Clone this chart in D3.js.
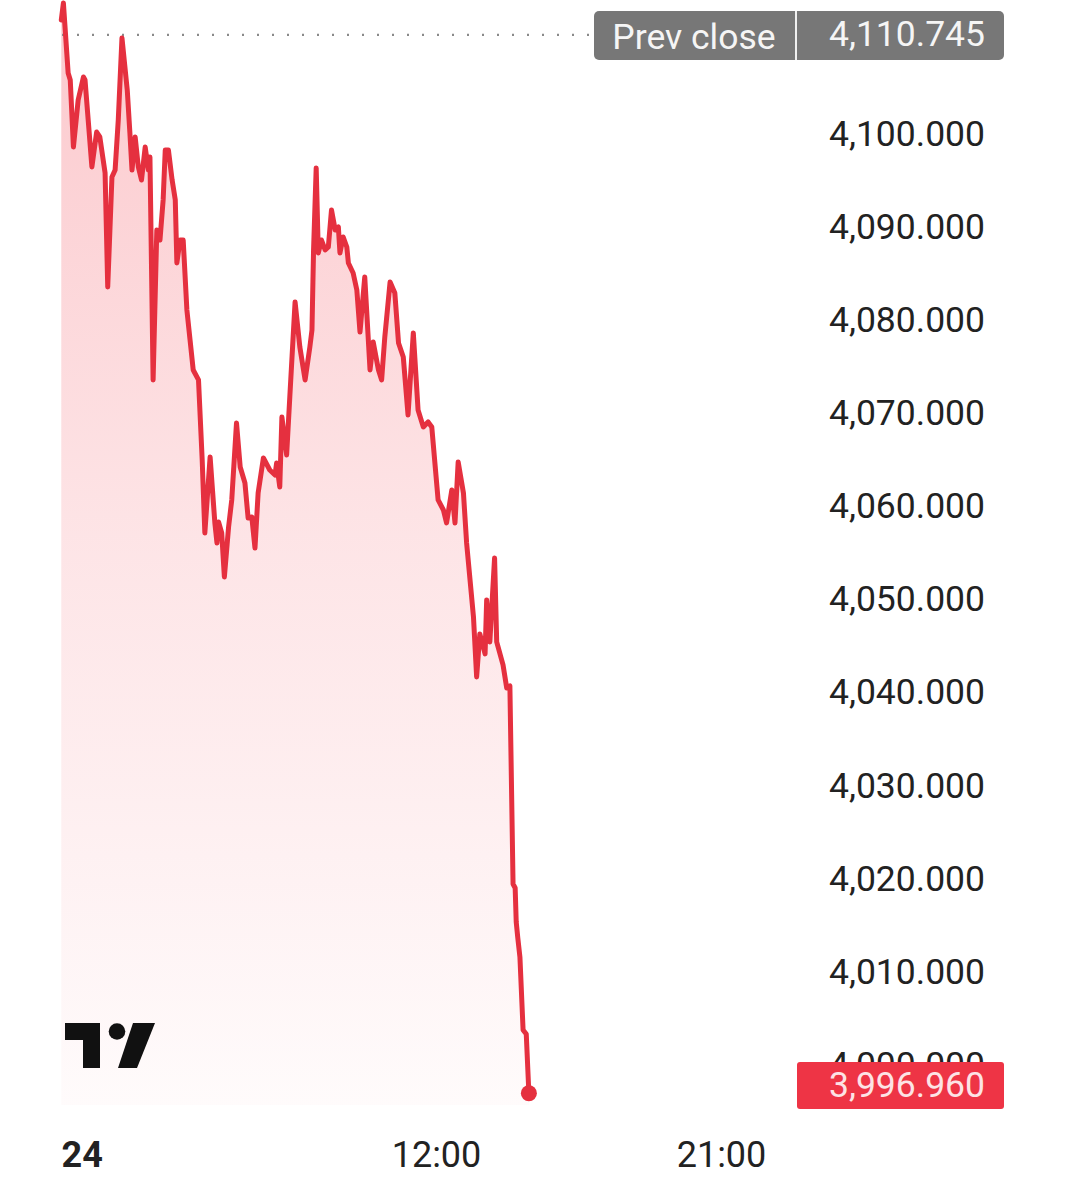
<!DOCTYPE html>
<html><head><meta charset="utf-8">
<script src="https://cdn.jsdelivr.net/npm/d3@7"></script>
<style>body{margin:0;background:#fff}svg{display:block}</style>
</head><body>
<svg id="c" width="1080" height="1188"></svg>
<script>
// minutes since midnight of the 24th
const timeMin = [10,14,23,27,33,42,52,55,61,68,77,83,93,98,106,112,118,125,135,140,144,150,156,162,169,175,178,184,191,197,203,207,213,220,226,229,235,241,248,254,260,270,277,282,292,301,305,308,314,319,327,333,342,349,358,364,371,377,383,393,405,415,418,424,428,437,443,453,462,472,481,485,488,493,497,503,510,516,522,529,535,538,544,551,554,563,570,576,585,595,601,611,617,623,633,642,649,658,667,677,686,696,705,712,724,734,740,750,756,762,772,778,791,797,803,813,816,822,831,835,847,854,860,866,870,872,875,879,885,891,896];
const values = [4112.24,4114.07,4106.55,4105.80,4098.60,4103.65,4106.12,4105.80,4101.50,4096.46,4100.21,4099.68,4095.81,4083.57,4095.38,4096.13,4101.50,4110.31,4104.73,4100.11,4096.13,4099.68,4096.46,4095.06,4098.60,4096.13,4097.53,4073.58,4089.69,4088.61,4092.91,4098.28,4098.28,4095.06,4092.91,4086.14,4088.61,4088.61,4081.10,4077.87,4074.65,4073.58,4064.98,4057.14,4065.31,4058.22,4056.07,4058.32,4057.14,4052.42,4057.79,4060.69,4068.96,4064.23,4062.51,4058.75,4058.86,4055.53,4061.44,4065.20,4063.91,4063.37,4064.66,4062.08,4069.60,4065.52,4071.75,4081.96,4077.12,4073.58,4077.12,4078.95,4087.54,4096.35,4087.22,4088.61,4087.54,4087.86,4091.84,4089.69,4090.01,4087.22,4088.94,4087.86,4086.14,4085.07,4083.24,4078.73,4084.64,4074.65,4077.66,4074.65,4073.58,4078.20,4084.10,4082.92,4077.55,4076.05,4069.82,4078.63,4070.35,4068.53,4069.07,4068.53,4060.69,4059.61,4058.22,4061.76,4058.22,4064.77,4061.44,4056.07,4048.12,4041.68,4046.30,4044.15,4049.95,4045.44,4054.46,4045.44,4042.97,4040.49,4040.71,4019.44,4019.01,4015.36,4013.64,4011.60,4003.76,4003.33,3996.96];
const prevClose = 4110.745;
const lastPrice = 3996.96;
const yTickValues = [4000,4010,4020,4030,4040,4050,4060,4070,4080,4090,4100];
const xTickMinutes = [0,720,1260];
const xTickLabels = ["24","12:00","21:00"];

const svg = d3.select("#c");
const plotBottom = 1105;
const FONT = "Roboto, 'Noto Sans', sans-serif";
const x = d3.scaleLinear().domain([0,720]).range([56,436]);
const y = d3.scaleLinear().domain([3995.7,4114.39]).range([plotBottom,0]);
const red = "#e5303f";
const data = timeMin.map((t,i)=>({t, v: values[i]}));

const defs = svg.append("defs");
const g = defs.append("linearGradient").attr("id","fillg")
  .attr("gradientUnits","userSpaceOnUse").attr("x1",0).attr("x2",0).attr("y1",0).attr("y2",plotBottom);
g.append("stop").attr("offset",0).attr("stop-color","#f23645").attr("stop-opacity",0.27);
g.append("stop").attr("offset",0.5).attr("stop-color","#f23645").attr("stop-opacity",0.13);
g.append("stop").attr("offset",1).attr("stop-color","#f23645").attr("stop-opacity",0.02);

svg.append("path").datum(data)
  .attr("d", d3.area().x(d=>x(d.t)).y0(plotBottom).y1(d=>y(d.v)))
  .attr("fill","url(#fillg)");

const pcY = y(prevClose);
svg.append("line").attr("x1",62).attr("x2",592).attr("y1",pcY+1).attr("y2",pcY+1)
  .attr("stroke","#8a8a8a").attr("stroke-width",2.2).attr("stroke-dasharray","2,13");

svg.append("path").datum(data)
  .attr("d", d3.line().x(d=>x(d.t)).y(d=>y(d.v)))
  .attr("fill","none").attr("stroke",red).attr("stroke-width",5)
  .attr("stroke-linejoin","round").attr("stroke-linecap","round");

const last = data[data.length-1];
svg.append("circle").attr("cx",x(last.t)).attr("cy",y(last.v)).attr("r",8).attr("fill",red);

const yAxis = svg.append("g").attr("transform","translate(985,0)")
  .call(d3.axisRight(y).tickValues(yTickValues).tickFormat(d3.format(",.3f")).tickSize(0));
yAxis.select(".domain").remove();
yAxis.selectAll("text").attr("x",0).attr("text-anchor","end")
  .attr("font-family",FONT).attr("font-size",35.5).attr("fill","#222");

const xAxis = svg.append("g").attr("transform",`translate(0,${plotBottom})`)
  .call(d3.axisBottom(x).tickValues(xTickMinutes).tickFormat((d,i)=>xTickLabels[i]).tickSize(0));
xAxis.select(".domain").remove();
xAxis.selectAll("text").attr("y",62).attr("dy",0)
  .attr("font-family",FONT).attr("font-size",36).attr("fill","#222");
xAxis.selectAll("text").filter((d,i)=>i===0)
  .attr("text-anchor","start").attr("x",61 - x(0)).attr("font-weight","bold");

const pc = svg.append("g");
pc.append("rect").attr("x",594).attr("y",pcY-23).attr("width",410).attr("height",49).attr("rx",5).attr("fill","#777777");
pc.append("line").attr("x1",796).attr("x2",796).attr("y1",pcY-23).attr("y2",pcY+26).attr("stroke","#f0f0f0").attr("stroke-width",2);
pc.append("text").attr("x",694).attr("y",pcY+3).attr("dy","0.35em").attr("text-anchor","middle")
  .attr("font-family",FONT).attr("font-size",35.5).attr("fill","#f5f5f5").text("Prev close");
pc.append("text").attr("x",985).attr("y",pcY).attr("dy","0.35em").attr("text-anchor","end")
  .attr("font-family",FONT).attr("font-size",35.5).attr("fill","#f5f5f5").text(d3.format(",.3f")(prevClose));

const lpY = 1085;
svg.append("rect").attr("x",797).attr("y",lpY-23).attr("width",207).attr("height",47).attr("rx",3).attr("fill","#ee3445");
svg.append("text").attr("x",985).attr("y",lpY).attr("dy","0.35em").attr("text-anchor","end")
  .attr("font-family",FONT).attr("font-size",35.5).attr("fill","#fde3e5").text(d3.format(",.3f")(lastPrice));

const logo = svg.append("g").attr("fill","#111");
logo.append("path").attr("d","M65,1023 H100 V1068 H83 V1040 H65 Z");
logo.append("circle").attr("cx",117).attr("cy",1031.5).attr("r",8.3);
logo.append("path").attr("d","M133,1023 H155 L137,1068 H118 Z");
</script>
</body></html>
